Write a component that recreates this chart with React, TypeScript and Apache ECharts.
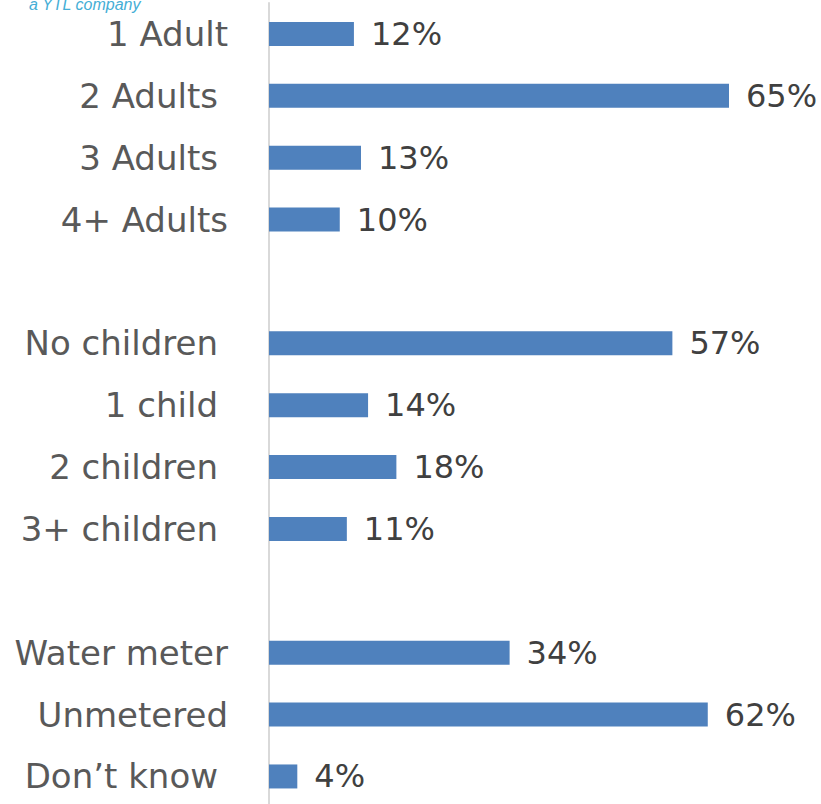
import React, { useEffect, useRef } from "react";
import * as echarts from "echarts";

const categories = [
  "1 Adult",
  "2 Adults",
  "3 Adults",
  "4+ Adults",
  "",
  "No children",
  "1 child",
  "2 children",
  "3+ children",
  " ",
  "Water meter",
  "Unmetered",
  "Don’t know",
];
const values: (number | null)[] = [12, 65, 13, 10, null, 57, 14, 18, 11, null, 34, 62, 4];
// labels that carry a trailing space in the original
const spacedLabels = ["2 Adults", "3 Adults", "No children", "1 child", "2 children", "3+ children", "Don’t know"];

const FONT = "'DejaVu Sans', Verdana, sans-serif";

export default function App() {
  const ref = useRef<HTMLDivElement>(null);
  useEffect(() => {
    document.body.style.margin = "0";
    const chart = echarts.init(ref.current!, null, { renderer: "svg" });
    chart.setOption({
      animation: false,
      graphic: [
        {
          type: "text",
          left: 29,
          top: -4,
          style: {
            text: "a YTL company",
            fill: "#45aed6",
            font: "italic 16px 'Liberation Sans', Arial, sans-serif",
          },
        },
      ],
      grid: {
        left: 269,
        top: 3,
        width: 552,
        height: 804.4,
        containLabel: false,
        outerBoundsMode: "none",
      },
      xAxis: {
        type: "value",
        min: 0,
        max: 78,
        show: false,
      },
      yAxis: {
        type: "category",
        inverse: true,
        data: categories,
        axisLine: { show: true, lineStyle: { color: "#d9d9d9", width: 2 } },
        axisTick: { show: false },
        axisLabel: {
          margin: 41,
          fontFamily: FONT,
          fontSize: 34,
          color: "#595959",
          formatter: (v: string) =>
            v.trim() === "" ? "" : spacedLabels.includes(v) ? `{p|${v}}` : `{n|${v}}`,
          rich: {
            p: { fontFamily: FONT, fontSize: 34, color: "#595959", padding: [0, 10, 0, 0] },
            n: { fontFamily: FONT, fontSize: 34, color: "#595959" },
          },
        },
      },
      series: [
        {
          type: "bar",
          data: values,
          barWidth: 24,
          itemStyle: { color: "#4f81bd" },
          label: {
            show: true,
            position: "right",
            distance: 17,
            fontFamily: FONT,
            fontSize: 32,
            color: "#404040",
            formatter: "{c}%",
          },
        },
      ],
    });
    return () => chart.dispose();
  }, []);
  return (
    <div
      ref={ref}
      style={{ position: "absolute", left: 0, top: 0, width: 821, height: 804 }}
    />
  );
}
